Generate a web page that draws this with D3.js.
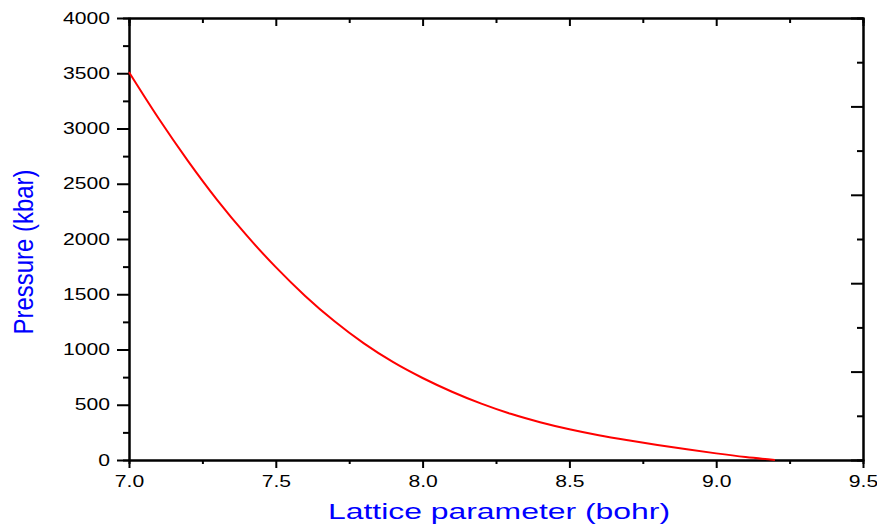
<!DOCTYPE html>
<meta charset="utf-8">
<head>
    <title>Pressure vs lattice parameter</title>
    <script src="https://cdn.jsdelivr.net/npm/d3@7"></script>
</head>

<style>
    body { margin: 0; background: white; }
    text { font-family: "Liberation Sans", Arial, sans-serif; }
    .axis path, .axis line { stroke: black; stroke-width: 2; }
    .axis text { font-size: 16px; fill: black; }
</style>

<svg></svg>

<script>
    // data
    var latticeParam = [7.0, 7.1, 7.2, 7.3, 7.4, 7.5, 7.6, 7.7, 7.8, 7.9, 8.0, 8.1, 8.2, 8.3, 8.4, 8.5, 8.6, 8.7, 8.8, 8.9, 9.0, 9.1, 9.2];
    var pressure = [3510, 3095, 2710, 2355, 2035, 1745, 1485, 1255, 1055, 885, 742, 618, 510, 418, 342, 278, 224, 178, 136, 97, 60, 27, 0];
    var xTicks = [7.0, 7.5, 8.0, 8.5, 9.0, 9.5];
    var yTicks = [0, 500, 1000, 1500, 2000, 2500, 3000, 3500, 4000];

    var vWidth = 877, vHeight = 531;
    // plot box (note: "top" is taken by window.top)
    var pLeft = 129, pRight = 863, pTop = 18, pBottom = 460;

    var svg = d3.select('svg')
        .attr('width', vWidth)
        .attr('height', vHeight);

    var x = d3.scaleLinear().domain([7.0, 9.5]).range([pLeft, pRight]);
    var y = d3.scaleLinear().domain([0, 4000]).range([pBottom, pTop]);
    var yRight = d3.scaleLinear().domain([0, 10]).range([pBottom, pTop]);

    function minorOf(ticks) {
        var out = [];
        for (var i = 0; i < ticks.length - 1; i++) out.push((ticks[i] + ticks[i + 1]) / 2);
        return out;
    }

    // minor ticks first, then major ticks with labels
    svg.append('g').attr('class', 'axis')
        .attr('transform', 'translate(0,' + pBottom + ')')
        .call(d3.axisBottom(x).tickValues(minorOf(xTicks)).tickSize(4).tickFormat(''));
    var xAxis = svg.append('g').attr('class', 'axis')
        .attr('transform', 'translate(0,' + pBottom + ')')
        .call(d3.axisBottom(x).tickValues(xTicks).tickSize(8).tickSizeOuter(0).tickFormat(d3.format('.1f')));

    svg.append('g').attr('class', 'axis')
        .attr('transform', 'translate(0,' + pTop + ')')
        .call(d3.axisBottom(x).tickValues(minorOf(xTicks)).tickSize(5).tickFormat(''));
    svg.append('g').attr('class', 'axis')
        .attr('transform', 'translate(0,' + pTop + ')')
        .call(d3.axisBottom(x).tickValues(xTicks).tickSize(8).tickSizeOuter(0).tickFormat(''));

    svg.append('g').attr('class', 'axis')
        .attr('transform', 'translate(' + pLeft + ',0)')
        .call(d3.axisLeft(y).tickValues(minorOf(yTicks)).tickSize(6).tickFormat(''));
    var yAxis = svg.append('g').attr('class', 'axis')
        .attr('transform', 'translate(' + pLeft + ',0)')
        .call(d3.axisLeft(y).tickValues(yTicks).tickSize(12).tickSizeOuter(0).tickPadding(7).tickFormat(d3.format('d')));

    // right axis has its own 10 divisions
    svg.append('g').attr('class', 'axis')
        .attr('transform', 'translate(' + pRight + ',0)')
        .call(d3.axisLeft(yRight).tickValues([1, 3, 5, 7, 9]).tickSize(6).tickFormat(''));
    svg.append('g').attr('class', 'axis')
        .attr('transform', 'translate(' + pRight + ',0)')
        .call(d3.axisLeft(yRight).tickValues([0, 2, 4, 6, 8, 10]).tickSize(12).tickSizeOuter(0).tickFormat(''));

    // the labels in the picture are wider than the font
    svg.selectAll('.axis text').each(function () {
        var w = this.getComputedTextLength();
        d3.select(this).attr('textLength', w * 1.32).attr('lengthAdjust', 'spacingAndGlyphs');
    });
    xAxis.selectAll('text').attr('dy', null).attr('y', 27);

    var line = d3.line()
        .x(function (d, i) { return x(latticeParam[i]); })
        .y(function (d) { return y(d); })
        .curve(d3.curveMonotoneX);

    svg.append('path')
        .datum(pressure)
        .attr('d', line)
        .attr('fill', 'none')
        .attr('stroke', '#ff0000')
        .attr('stroke-width', 2);

    svg.append('text')
        .attr('x', 499)
        .attr('y', 519)
        .attr('text-anchor', 'middle')
        .attr('font-size', 22)
        .attr('fill', '#0000ff')
        .attr('textLength', 342)
        .attr('lengthAdjust', 'spacingAndGlyphs')
        .text('Lattice parameter (bohr)');

    svg.append('text')
        .attr('transform', 'translate(33,252) rotate(-90)')
        .attr('text-anchor', 'middle')
        .attr('font-size', 28)
        .attr('fill', '#0000ff')
        .attr('textLength', 165)
        .attr('lengthAdjust', 'spacingAndGlyphs')
        .text('Pressure (kbar)');
</script>
